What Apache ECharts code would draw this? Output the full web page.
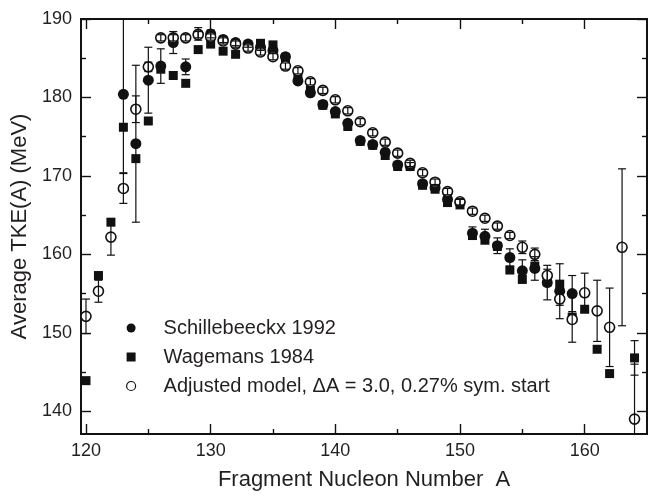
<!DOCTYPE html>
<html>
<head>
<meta charset="utf-8">
<script src="https://cdn.jsdelivr.net/npm/echarts@6/dist/echarts.min.js"></script>
<style>
  html, body { margin: 0; padding: 0; background: #fff; }
  #chart { width: 655px; height: 496px; }
</style>
</head>
<body>
<div id="chart"></div>
<script>
// Schillebeeckx 1992 (filled circles)
const schA = [123, 124, 125, 126, 127, 128, 129, 130, 131, 132, 133, 134, 135, 136, 137, 138, 139, 140, 141,
  142, 143, 144, 145, 146, 147, 148, 149, 150, 151, 152, 153, 154, 155, 156, 157, 158, 159];
const schTKE = [180.4, 174.1, 182.2, 184.0, 187.0, 183.9, 188.1, 188.1, 187.4, 187.0, 186.8, 186.4, 186.0,
  185.2, 182.1, 180.6, 179.1, 178.2, 176.7, 174.5, 174.0, 173.0, 171.4, 171.3, 169.0, 168.5, 167.0,
  166.6, 162.7, 162.3, 161.1, 159.6, 157.9, 158.2, 156.4, 155.3, 155.0];
const schErr = [10, 10, 4.2, 2.2, 1.4, 1.0, 0.8, 0.5, 0.4, 0.4, 0.4, 0.4, 0.4, 0.4, 0.4, 0.4, 0.4, 0.4, 0.4,
  0.4, 0.4, 0.4, 0.4, 0.4, 0.4, 0.4, 0.4, 0.4, 0.8, 0.9, 1.0, 1.1, 1.4, 1.5, 2.2, 3.5, 2.3];

// Wagemans 1984 (filled squares)
const wagA = [120, 121, 122, 123, 124, 125, 126, 127, 128, 129, 130, 131, 132, 133, 134, 135, 136, 137, 138,
  139, 140, 141, 142, 143, 144, 145, 146, 147, 148, 149, 150, 151, 152, 153, 154, 155, 156, 157, 158,
  159, 160, 161, 162, 164];
const wagTKE = [143.9, 157.3, 164.1, 176.2, 172.2, 177.0, 183.6, 182.8, 181.8, 186.1, 186.8, 185.9, 185.5,
  186.5, 186.9, 186.7, 185.0, 182.4, 180.9, 179.0, 177.9, 176.3, 174.4, 173.9, 172.6, 171.2, 171.2,
  168.8, 168.3, 166.6, 166.3, 162.4, 161.8, 161.0, 158.0, 156.8, 158.5, 156.5, 156.2, 152.0, 153.0,
  147.9, 144.8, 146.8];
const wagErr = [null, null, null, null, null, null, null, null, null, null, null, null, null, null, null,
  null, null, null, null, null, null, null, null, null, null, null, null, null, null, null, null, null,
  null, null, null, null, null, null, null, null, null, null, null, 2.2];

// Adjusted model (open circles)
const modA = [120, 121, 122, 123, 124, 125, 126, 127, 128, 129, 130, 131, 132, 133, 134, 135, 136, 137, 138,
  139, 140, 141, 142, 143, 144, 145, 146, 147, 148, 149, 150, 151, 152, 153, 154, 155, 156, 157, 158,
  159, 160, 161, 162, 163, 164];
const modTKE = [152.1, 155.3, 162.2, 168.4, 178.5, 183.9, 187.6, 187.6, 187.6, 188.0, 187.7, 187.2, 186.8,
  186.3, 185.8, 185.2, 184.0, 183.4, 182.0, 180.9, 179.7, 178.3, 176.9, 175.5, 174.3, 172.9, 171.6,
  170.4, 169.2, 168.0, 166.7, 165.5, 164.6, 163.6, 162.4, 160.9, 160.0, 157.3, 154.3, 151.7, 155.1,
  152.8, 150.7, 160.9, 139.0];
const modErr = [2.2, 1.4, 2.3, 1.9, 1.7, 0.6, 0.4, 0.4, 0.4, 0.4, 0.4, 0.4, 0.4, 0.4, 0.4, 0.4, 0.4, 0.4,
  0.4, 0.4, 0.4, 0.4, 0.4, 0.4, 0.4, 0.4, 0.4, 0.4, 0.4, 0.4, 0.4, 0.4, 0.4, 0.4, 0.4, 0.8, 0.8, 0.8,
  0.8, 2.9, 2.5, 3.9, 5.0, 10, 7];

// axis ticks
const xMajor = [120, 130, 140, 150, 160];
const xMinor = [125, 135, 145, 155];
const yMajor = [140, 150, 160, 170, 180, 190];
const yMinor = [145, 155, 165, 175, 185];

const seriesNames = ['Schillebeeckx 1992', 'Wagemans 1984', 'Adjusted model, \u0394A = 3.0, 0.27% sym. start'];

const FONT = '"Liberation Sans", Arial, Helvetica, sans-serif';
const INK = '#111';
const TEXT = '#231f20';

function pairs(xs, ys) {
  return xs.map((a, i) => [a, ys[i]]);
}

// error bars drawn as vertical lines with small caps
function errorBars(xs, ys, errs) {
  const data = [];
  xs.forEach((a, i) => {
    if (errs[i]) data.push([a, ys[i] - errs[i], ys[i] + errs[i]]);
  });
  return {
    type: 'custom',
    data: data,
    clip: true,
    silent: true,
    z: 6,
    encode: { x: 0, y: [1, 2] },
    renderItem: function(params, api) {
      const lo = api.coord([api.value(0), api.value(1)]);
      const hi = api.coord([api.value(0), api.value(2)]);
      const w = 4;
      const st = { stroke: INK, lineWidth: 1.2 };
      return {
        type: 'group',
        children: [
          { type: 'line', shape: { x1: lo[0], y1: lo[1], x2: hi[0], y2: hi[1] }, style: st },
          { type: 'line', shape: { x1: lo[0] - w, y1: lo[1], x2: lo[0] + w, y2: lo[1] }, style: st },
          { type: 'line', shape: { x1: hi[0] - w, y1: hi[1], x2: hi[0] + w, y2: hi[1] }, style: st }
        ]
      };
    }
  };
}

function xAxisOf(position, ticks, len, labels) {
  return {
    type: 'value',
    position: position,
    min: 119.6,
    max: 165,
    axisLine: { show: true, onZero: false, lineStyle: { color: INK, width: 1.8 } },
    axisTick: { show: true, inside: true, length: len, customValues: ticks, lineStyle: { color: INK, width: 1.4 } },
    axisLabel: labels
      ? { show: true, customValues: ticks, margin: 8, fontFamily: FONT, fontSize: 18, color: TEXT }
      : { show: false },
    splitLine: { show: false }
  };
}

function yAxisOf(position, ticks, len, labels) {
  return {
    type: 'value',
    position: position,
    min: 137.1,
    max: 190,
    axisLine: { show: true, onZero: false, lineStyle: { color: INK, width: 1.8 } },
    axisTick: { show: true, inside: true, length: len, customValues: ticks, lineStyle: { color: INK, width: 1.4 } },
    axisLabel: labels
      ? { show: true, customValues: ticks, margin: 9, fontFamily: FONT, fontSize: 18, color: TEXT }
      : { show: false },
    splitLine: { show: false }
  };
}

const xAxes = [
  xAxisOf('bottom', xMajor, 10, true),
  xAxisOf('bottom', xMinor, 5, false),
  xAxisOf('top', xMajor, 10, false),
  xAxisOf('top', xMinor, 5, false)
];
xAxes[0].name = 'Fragment Nucleon Number  A';
xAxes[0].nameLocation = 'middle';
xAxes[0].nameGap = 35;
xAxes[0].nameTextStyle = { fontFamily: FONT, fontSize: 22, color: TEXT };

const yAxes = [
  yAxisOf('left', yMajor, 10, true),
  yAxisOf('left', yMinor, 5, false),
  yAxisOf('right', yMajor, 10, false),
  yAxisOf('right', yMinor, 5, false)
];
yAxes[0].name = 'Average TKE(A) (MeV)';
yAxes[0].nameLocation = 'middle';
yAxes[0].nameGap = 49;
yAxes[0].nameTextStyle = { fontFamily: FONT, fontSize: 22, color: TEXT };

const chart = echarts.init(document.getElementById('chart'), null, { renderer: 'canvas' });

chart.setOption({
  animation: false,
  backgroundColor: '#fff',
  grid: { left: 81, right: 8, top: 19, bottom: 61, containLabel: false },
  xAxis: xAxes,
  yAxis: yAxes,
  legend: {
    orient: 'vertical',
    left: 121,
    top: 312,
    itemWidth: 55,
    itemHeight: 9,
    itemGap: 7,
    selectedMode: false,
    textStyle: { fontFamily: FONT, fontSize: 20, color: TEXT, lineHeight: 22 },
    data: [
      { name: seriesNames[0], icon: 'circle' },
      { name: seriesNames[1], icon: 'path://M0,0L10,0L10,10L0,10Z' },
      { name: seriesNames[2], icon: 'circle', itemStyle: { color: '#fff', borderColor: INK, borderWidth: 1.2 } }
    ]
  },
  series: [
    {
      name: seriesNames[1],
      type: 'scatter',
      symbol: 'rect',
      symbolSize: 9,
      z: 3,
      itemStyle: { color: INK, opacity: 1 },
      data: pairs(wagA, wagTKE)
    },
    {
      name: seriesNames[0],
      type: 'scatter',
      symbol: 'circle',
      symbolSize: 11,
      z: 4,
      itemStyle: { color: INK, opacity: 1 },
      data: pairs(schA, schTKE)
    },
    {
      name: seriesNames[2],
      type: 'scatter',
      symbol: 'circle',
      symbolSize: 10,
      z: 5,
      itemStyle: { color: '#fff', borderColor: INK, borderWidth: 1.6, opacity: 1 },
      data: pairs(modA, modTKE)
    },
    errorBars(schA, schTKE, schErr),
    errorBars(wagA, wagTKE, wagErr),
    errorBars(modA, modTKE, modErr)
  ]
});
</script>
</body>
</html>
